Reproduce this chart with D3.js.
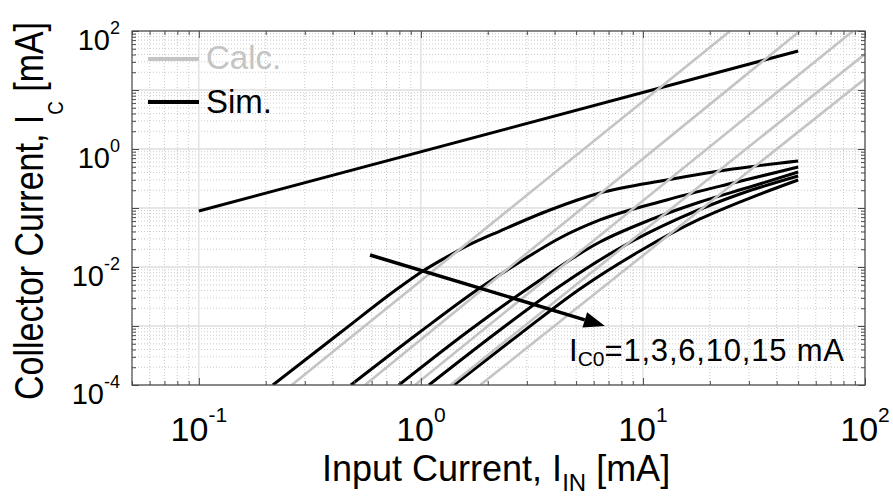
<!DOCTYPE html>
<html>
<head>
<meta charset="utf-8">
<script src="https://cdn.jsdelivr.net/npm/d3@7"></script>
<style>
  body { margin: 0; background: #fff; }
  text { font-family: "Liberation Sans", Arial, Helvetica, sans-serif; }
</style>
</head>
<body>
<svg id="chart" width="893" height="498"></svg>
<script>
// ---- data (mA) ----
// simulated linear response (top straight line)
const simLinearIn = [0.1, 50];
const simLinearOut = [0.089, 45.8];

// simulated collector current for I_C0 = 1, 3, 6, 10, 15 mA
const simIn1  = [0.2155, 0.4315, 0.804, 1.021, 1.283, 1.611, 2.27, 3.81, 6.4, 12.8, 25.4, 50];
const simOut1 = [1.0e-4, 7.6e-4, 0.00458, 0.00855, 0.01422, 0.0227, 0.0407, 0.0925, 0.1795, 0.2985, 0.458, 0.627];
const simIn2  = [0.484, 0.99, 1.788, 2.79, 4.23, 6.4, 12.8, 25.4, 50];
const simOut2 = [1.0e-4, 7.9e-4, 0.00407, 0.01217, 0.03104, 0.0627, 0.1368, 0.2655, 0.4955];
const simIn3  = [0.796, 1.662, 3.097, 6.4, 10.75, 18.07, 30.3, 50];
const simOut3 = [1.0e-4, 8.55e-4, 0.00458, 0.02655, 0.0627, 0.1265, 0.227, 0.407];
const simIn4  = [1.087, 2.27, 4.23, 7.88, 14.68, 27.35, 50];
const simOut4 = [1.0e-4, 8.55e-4, 0.00476, 0.021, 0.0678, 0.1726, 0.348];
const simIn5  = [1.408, 2.79, 5.2, 9.69, 18.07, 30.3, 50];
const simOut5 = [1.0e-4, 7.3e-4, 0.00424, 0.01866, 0.0652, 0.1476, 0.2985];

// calculated (cubic) characteristics: end points of each straight segment
const calcIn  = [[0.262, 24.7], [0.56, 50.9], [0.94, 88.3], [1.36, 100], [1.85, 100]];
const calcOut = [[1e-4, 100], [1e-4, 100], [1e-4, 100], [1e-4, 40.8], [1e-4, 15.5]];

// arrow across the family of curves (I_C0 increasing)
const arrowFrom = [0.59, 0.016];
const arrowTo = [6.74, 0.001];

const xDecades = [-1, 0, 1, 2];
const yDecades = [-4, -2, 0, 2];
const icoValues = "1,3,6,10,15";

// ---- scales ----
const svg = d3.select("#chart");
const x = d3.scaleLog().domain([0.05, 100]).range([132, 865]);
const y = d3.scaleLog().domain([1e-4, 100]).range([385, 31]);
const [x0, x1] = x.range();
const [y0, y1] = y.range();

const xMajor = [0.1, 1, 10, 100];
const yMajorAll = [1e-4, 1e-3, 1e-2, 1e-1, 1, 10, 100];
const minorOf = (lo, hi) => {
  const out = [];
  for (let e = -5; e <= 2; e++) for (let k = 2; k <= 9; k++) {
    const v = k * Math.pow(10, e);
    if (v >= lo * 0.999 && v <= hi * 1.001) out.push(v);
  }
  return out;
};
const xMinor = minorOf(0.05, 100);
const yMinor = minorOf(1e-4, 100);

// ---- grid ----
const grid = svg.append("g");
grid.selectAll(".gxm").data(xMinor).join("line")
  .attr("x1", d => x(d)).attr("x2", d => x(d)).attr("y1", y0).attr("y2", y1)
  .attr("stroke", "#cbcbcb").attr("stroke-width", 1).attr("stroke-dasharray", "1,2");
grid.selectAll(".gym").data(yMinor).join("line")
  .attr("y1", d => y(d)).attr("y2", d => y(d)).attr("x1", x0).attr("x2", x1)
  .attr("stroke", "#cbcbcb").attr("stroke-width", 1).attr("stroke-dasharray", "1,2");
grid.selectAll(".gxM").data(xMajor).join("line")
  .attr("x1", d => x(d)).attr("x2", d => x(d)).attr("y1", y0).attr("y2", y1)
  .attr("stroke", "#dedede").attr("stroke-width", 1.3);
grid.selectAll(".gyM").data(yMajorAll).join("line")
  .attr("y1", d => y(d)).attr("y2", d => y(d)).attr("x1", x0).attr("x2", x1)
  .attr("stroke", "#dedede").attr("stroke-width", 1.3);

// ---- curves ----
svg.append("clipPath").attr("id", "plotClip").append("rect")
  .attr("x", x0).attr("y", y1).attr("width", x1 - x0).attr("height", y0 - y1);
const plot = svg.append("g").attr("clip-path", "url(#plotClip)");

const line = d3.line().x(d => x(d[0])).y(d => y(d[1])).curve(d3.curveMonotoneX);
const zip = (a, b) => a.map((v, i) => [v, b[i]]);

const simSets = [
  zip(simLinearIn, simLinearOut),
  zip(simIn1, simOut1), zip(simIn2, simOut2), zip(simIn3, simOut3),
  zip(simIn4, simOut4), zip(simIn5, simOut5)
];
plot.selectAll(".sim").data(simSets).join("path")
  .attr("d", line).attr("fill", "none").attr("stroke", "#000")
  .attr("stroke-width", 3).attr("stroke-linejoin", "round");

const calcSets = calcIn.map((xs, i) => zip(xs, calcOut[i]));
plot.selectAll(".calc").data(calcSets).join("path")
  .attr("d", d3.line().x(d => x(d[0])).y(d => y(d[1])))
  .attr("fill", "none").attr("stroke", "#c4c4c4").attr("stroke-width", 2.6);

// ---- arrow ----
const ax0 = x(arrowFrom[0]), ay0 = y(arrowFrom[1]);
const ax1 = x(arrowTo[0]), ay1 = y(arrowTo[1]);
const ang = Math.atan2(ay1 - ay0, ax1 - ax0);
const headLen = 21, headHalf = 8;
const bx = ax1 - headLen * Math.cos(ang), by = ay1 - headLen * Math.sin(ang);
svg.append("line").attr("x1", ax0).attr("y1", ay0).attr("x2", bx).attr("y2", by)
  .attr("stroke", "#000").attr("stroke-width", 3.5);
svg.append("path")
  .attr("d", `M${ax1},${ay1}L${bx - headHalf * Math.sin(ang)},${by + headHalf * Math.cos(ang)}L${bx + headHalf * Math.sin(ang)},${by - headHalf * Math.cos(ang)}Z`)
  .attr("fill", "#000");

// ---- axes (ticks inside on all sides) ----
const axisColor = "#4a4a4a";
function styleAxis(g) {
  g.select(".domain").remove();
  g.selectAll("line").attr("stroke", axisColor).attr("stroke-width", 1);
}
svg.append("g").attr("transform", `translate(0,${y0})`)
  .call(d3.axisBottom(x).tickValues(xMinor).tickSize(-4).tickFormat("")).call(styleAxis);
svg.append("g").attr("transform", `translate(0,${y0})`)
  .call(d3.axisBottom(x).tickValues(xMajor).tickSize(-7).tickFormat("")).call(styleAxis);
svg.append("g").attr("transform", `translate(0,${y1})`)
  .call(d3.axisTop(x).tickValues(xMinor).tickSize(-4).tickFormat("")).call(styleAxis);
svg.append("g").attr("transform", `translate(0,${y1})`)
  .call(d3.axisTop(x).tickValues(xMajor).tickSize(-7).tickFormat("")).call(styleAxis);
svg.append("g").attr("transform", `translate(${x0},0)`)
  .call(d3.axisLeft(y).tickValues(yMinor).tickSize(-4).tickFormat("")).call(styleAxis);
svg.append("g").attr("transform", `translate(${x0},0)`)
  .call(d3.axisLeft(y).tickValues(yMajorAll).tickSize(-7).tickFormat("")).call(styleAxis);
svg.append("g").attr("transform", `translate(${x1},0)`)
  .call(d3.axisRight(y).tickValues(yMinor).tickSize(-4).tickFormat("")).call(styleAxis);
svg.append("g").attr("transform", `translate(${x1},0)`)
  .call(d3.axisRight(y).tickValues(yMajorAll).tickSize(-7).tickFormat("")).call(styleAxis);
svg.append("rect").attr("x", x0).attr("y", y1).attr("width", x1 - x0).attr("height", y0 - y1)
  .attr("fill", "none").attr("stroke", axisColor).attr("stroke-width", 1.2);

// ---- tick labels (powers of ten) ----
xDecades.forEach(e => {
  const t = svg.append("text").attr("x", x(Math.pow(10, e))).attr("y", y0 + 56)
    .attr("text-anchor", "middle").attr("fill", "#000");
  t.append("tspan").attr("font-size", 34).text("10");
  t.append("tspan").attr("font-size", 21).attr("dy", -19).text(String(e));
});
yDecades.forEach(e => {
  const t = svg.append("text").attr("x", 120).attr("y", y(Math.pow(10, e)) + 19)
    .attr("text-anchor", "end").attr("fill", "#000");
  t.append("tspan").attr("font-size", 29).text("10");
  t.append("tspan").attr("font-size", 18).attr("dy", -16).text(String(e));
});

// ---- axis titles ----
const xt = svg.append("text").attr("x", 322).attr("y", 481).attr("fill", "#000");
xt.append("tspan").attr("font-size", 36).text("Input Current, I");
xt.append("tspan").attr("font-size", 24).attr("dy", 10).text("IN");
xt.append("tspan").attr("font-size", 36).attr("dy", -10).text(" [mA]");

const yt = svg.append("text").attr("transform", "translate(43,400) rotate(-90) scale(0.85,1)")
  .attr("fill", "#000");
yt.append("tspan").attr("font-size", 40).text("Collector Current, I");
yt.append("tspan").attr("font-size", 22).attr("dy", 20).text("C");
yt.append("tspan").attr("font-size", 40).attr("dy", -20).text(" [mA]");

// ---- legend ----
const legend = svg.append("g");
legend.append("line").attr("x1", 148).attr("x2", 199).attr("y1", 59).attr("y2", 59)
  .attr("stroke", "#c4c4c4").attr("stroke-width", 4);
legend.append("text").attr("x", 206).attr("y", 69).attr("font-size", 33)
  .attr("fill", "#c4c4c4").text("Calc.");
legend.append("line").attr("x1", 148).attr("x2", 199).attr("y1", 102).attr("y2", 102)
  .attr("stroke", "#000").attr("stroke-width", 4);
legend.append("text").attr("x", 206).attr("y", 113).attr("font-size", 33)
  .attr("fill", "#000").text("Sim.");

// ---- annotation ----
const ann = svg.append("text").attr("x", 569).attr("y", 361).attr("fill", "#000");
ann.append("tspan").attr("font-size", 31).text("I");
ann.append("tspan").attr("font-size", 21).attr("dy", 5).text("C0");
ann.append("tspan").attr("font-size", 31).attr("dy", -5).attr("letter-spacing", 0.8)
  .text("=" + icoValues + " mA");
</script>
</body>
</html>
